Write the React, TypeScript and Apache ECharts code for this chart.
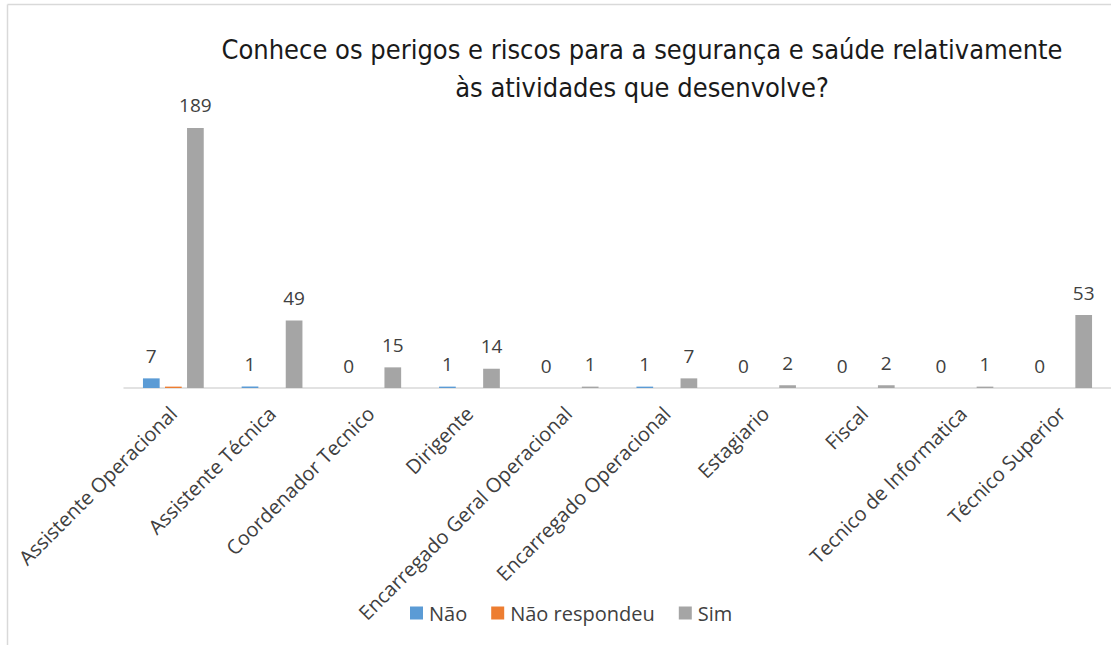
import React, { useEffect, useRef } from "react";
import * as echarts from "echarts";

const categories = [
  "Assistente Operacional",
  "Assistente Técnica",
  "Coordenador Tecnico",
  "Dirigente",
  "Encarregado Geral Operacional",
  "Encarregado Operacional",
  "Estagiario",
  "Fiscal",
  "Tecnico de Informatica",
  "Técnico Superior",
];
const naoValues = [7, 1, 0, 1, 0, 1, 0, 0, 0, 0];
const naoRespondeuValues = [1, null, null, null, null, null, null, null, null, null];
const simValues = [189, 49, 15, 14, 1, 7, 2, 2, 1, 53];

const titleLines = [
  "Conhece os perigos e riscos para a segurança e saúde relativamente",
  "às atividades que desenvolve?",
];

const FONT = "'Open Sans', 'Noto Sans', sans-serif";

export default function App() {
  const ref = useRef<HTMLDivElement>(null);
  useEffect(() => {
    if (!ref.current) return;
    const chart = echarts.init(ref.current, null, { renderer: "svg" });
    const label = {
      show: true,
      position: "top",
      distance: 13,
      fontSize: 19,
      fontFamily: FONT,
      color: "#404040",
    };
    chart.setOption({
      animation: false,
      backgroundColor: "#ffffff",
      graphic: [
        {
          type: "line",
          shape: { x1: 7.5, y1: 4.5, x2: 1111, y2: 4.5 },
          style: { stroke: "#d9d9d9", lineWidth: 1.5 },
        },
        {
          type: "line",
          shape: { x1: 7.5, y1: 4.5, x2: 7.5, y2: 645 },
          style: { stroke: "#d9d9d9", lineWidth: 1.5 },
        },
        {
          type: "text",
          x: 642,
          y: 30,
          style: {
            text: titleLines.join("\n"),
            textAlign: "center",
            fontSize: 27,
            lineHeight: 38,
            fontFamily: "'DejaVu Sans Condensed', sans-serif",
            fill: "#1a1a1a",
          },
        },
      ],
      legend: {
        left: 405,
        top: 598,
        itemWidth: 13,
        itemHeight: 13,
        itemGap: 24,
        icon: "rect",
        textStyle: { fontSize: 20, fontFamily: FONT, color: "#404040", padding: [0, 0, 0, 1] },
        data: ["Não", "Não respondeu", "Sim"],
      },
      grid: { left: 124, top: 112.8, width: 995.3, height: 275.2 },
      xAxis: {
        type: "category",
        data: categories,
        axisLine: { show: true, lineStyle: { color: "#d9d9d9", width: 1.5 } },
        axisTick: { show: false },
        axisLabel: {
          interval: 0,
          rotate: 45,
          margin: 22,
          fontSize: 20,
          fontFamily: FONT,
          color: "#404040",
        },
      },
      yAxis: {
        type: "value",
        min: 0,
        max: 200,
        show: false,
        splitLine: { show: false },
      },
      series: [
        {
          name: "Não",
          type: "bar",
          data: naoValues,
          barWidth: 16.7,
          barGap: "32%",
          itemStyle: { color: "#5b9bd5" },
          label,
        },
        {
          name: "Não respondeu",
          type: "bar",
          data: naoRespondeuValues,
          barWidth: 16.7,
          barGap: "32%",
          itemStyle: { color: "#ed7d31" },
        },
        {
          name: "Sim",
          type: "bar",
          data: simValues,
          barWidth: 16.7,
          barGap: "32%",
          itemStyle: { color: "#a5a5a5" },
          label,
        },
      ],
    });
    return () => chart.dispose();
  }, []);
  return (
    <div
      ref={ref}
      style={{ position: "absolute", left: 0, top: 0, width: 1111, height: 645 }}
    />
  );
}
